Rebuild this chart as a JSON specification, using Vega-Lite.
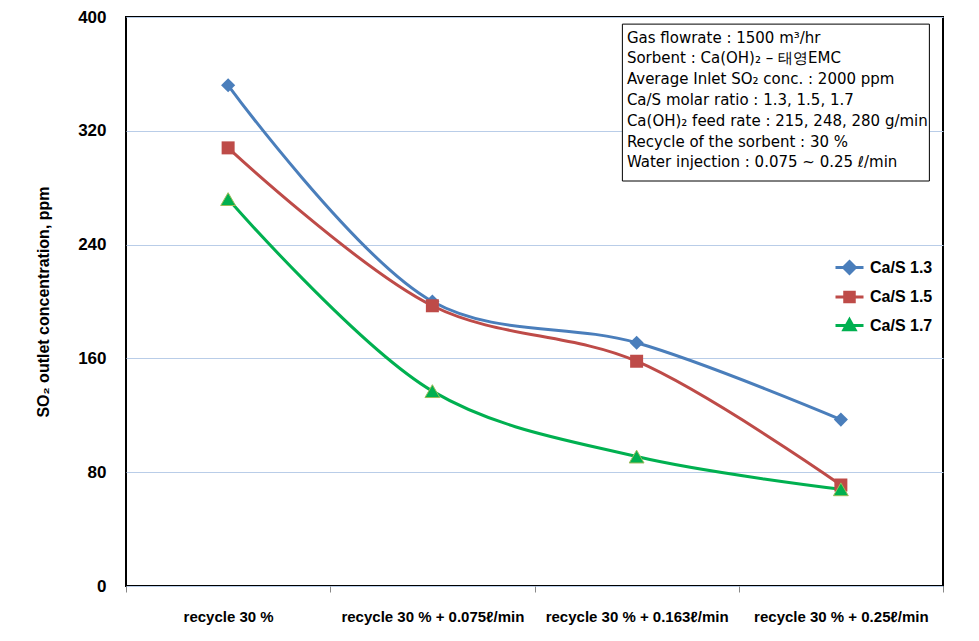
{
  "$schema": "https://vega.github.io/schema/vega-lite/v6.json",
  "autosize": "none",
  "width": 817,
  "height": 569,
  "padding": {"left": 126, "top": 17, "right": 36, "bottom": 55},
  "background": "white",
  "config": {
    "view": {"stroke": "#000000", "strokeWidth": 2},
    "font": "Liberation Sans"
  },
  "datasets": {
    "series": [
      {"condition": "recycle 30 %", "series": "Ca/S 1.3", "ppm": 352},
      {"condition": "recycle 30 % + 0.075ℓ/min", "series": "Ca/S 1.3", "ppm": 200},
      {"condition": "recycle 30 % + 0.163ℓ/min", "series": "Ca/S 1.3", "ppm": 171},
      {"condition": "recycle 30 % + 0.25ℓ/min", "series": "Ca/S 1.3", "ppm": 117},
      {"condition": "recycle 30 %", "series": "Ca/S 1.5", "ppm": 308},
      {"condition": "recycle 30 % + 0.075ℓ/min", "series": "Ca/S 1.5", "ppm": 197},
      {"condition": "recycle 30 % + 0.163ℓ/min", "series": "Ca/S 1.5", "ppm": 158},
      {"condition": "recycle 30 % + 0.25ℓ/min", "series": "Ca/S 1.5", "ppm": 71},
      {"condition": "recycle 30 %", "series": "Ca/S 1.7", "ppm": 272},
      {"condition": "recycle 30 % + 0.075ℓ/min", "series": "Ca/S 1.7", "ppm": 137},
      {"condition": "recycle 30 % + 0.163ℓ/min", "series": "Ca/S 1.7", "ppm": 91},
      {"condition": "recycle 30 % + 0.25ℓ/min", "series": "Ca/S 1.7", "ppm": 68}
    ],
    "notes": [
      {"note": ["Gas flowrate : 1500 m³/hr", "Sorbent : Ca(OH)₂ – 태영EMC", "Average Inlet SO₂ conc. : 2000 ppm", "Ca/S molar ratio : 1.3, 1.5, 1.7", "Ca(OH)₂ feed rate : 215, 248, 280 g/min", "Recycle of the sorbent : 30 %", "Water injection : 0.075 ~ 0.25 ℓ/min"]}
    ]
  },
  "layer": [
    {
      "data": {"name": "series"},
      "mark": {"type": "line", "interpolate": "catmull-rom", "strokeWidth": 3},
      "encoding": {
        "x": {
          "field": "condition",
          "type": "nominal",
          "sort": null,
          "scale": {"paddingInner": 0, "paddingOuter": 0, "domain": ["recycle 30 %", "recycle 30 % + 0.075ℓ/min", "recycle 30 % + 0.163ℓ/min", "recycle 30 % + 0.25ℓ/min"]},
          "axis": {
            "title": null,
            "labelAngle": 0,
            "labelFont": "Liberation Sans",
            "labelFontWeight": "bold",
            "labelFontSize": 15,
            "labelColor": "#000000",
            "labelPadding": 17,
            "labelLimit": 400,
            "tickBand": "extent",
            "tickColor": "#888888",
            "tickSize": 6,
            "tickWidth": 1,
            "domain": false,
            "grid": false
          }
        },
        "y": {
          "field": "ppm",
          "type": "quantitative",
          "scale": {"domain": [0, 400], "nice": false},
          "axis": {
            "title": "SO₂ outlet concentration, ppm",
            "titleFont": "Liberation Sans",
            "titleFontSize": 16,
            "titleFontWeight": "bold",
            "titleColor": "#000000",
            "titlePadding": 26,
            "values": [0, 80, 160, 240, 320, 400],
            "labelFont": "Liberation Sans",
            "labelFontWeight": "bold",
            "labelFontSize": 17,
            "labelColor": "#000000",
            "labelPadding": 20,
            "ticks": false,
            "domain": false,
            "grid": true,
            "gridColor": "#b9cde8",
            "gridWidth": 1
          }
        },
        "color": {
          "field": "series",
          "type": "nominal",
          "scale": {"domain": ["Ca/S 1.3", "Ca/S 1.5", "Ca/S 1.7"], "range": ["#4a7ebb", "#be4b48", "#00b050"]},
          "legend": {
            "title": null,
            "orient": "none",
            "legendX": 708,
            "legendY": 235,
            "labelFont": "Liberation Sans",
            "labelFontWeight": "bold",
            "labelFontSize": 16,
            "labelColor": "#000000",
            "labelOffset": 5,
            "rowPadding": 1.5,
            "symbolSize": 784,
            "symbolStrokeWidth": 3,
            "encode": {
              "symbols": {
                "update": {
                  "fill": {"scale": "color", "field": "value"},
                  "stroke": {"scale": "color", "field": "value"},
                  "strokeWidth": {"value": 3},
                  "shape": {"signal": "datum.value === 'Ca/S 1.3' ? 'M-1,0L1,0M0,-0.42L0.42,0L0,0.42L-0.42,0Z' : datum.value === 'Ca/S 1.5' ? 'M-1,0L1,0M-0.34,-0.34L0.34,-0.34L0.34,0.34L-0.34,0.34Z' : 'M-1,0L1,0M0,-0.42L0.4,0.3L-0.4,0.3Z'"}
                }
              }
            }
          }
        }
      }
    },
    {
      "data": {"name": "series"},
      "transform": [{"filter": "datum.series === 'Ca/S 1.3'"}],
      "mark": {"type": "point", "filled": true, "opacity": 1, "shape": "diamond", "size": 200},
      "encoding": {
        "x": {"field": "condition", "type": "nominal", "sort": null},
        "y": {"field": "ppm", "type": "quantitative"},
        "color": {"field": "series", "type": "nominal"}
      }
    },
    {
      "data": {"name": "series"},
      "transform": [{"filter": "datum.series === 'Ca/S 1.5'"}],
      "mark": {"type": "point", "filled": true, "opacity": 1, "shape": "square", "size": 169},
      "encoding": {
        "x": {"field": "condition", "type": "nominal", "sort": null},
        "y": {"field": "ppm", "type": "quantitative"},
        "color": {"field": "series", "type": "nominal"}
      }
    },
    {
      "data": {"name": "series"},
      "transform": [{"filter": "datum.series === 'Ca/S 1.7'"}],
      "mark": {"type": "point", "filled": true, "opacity": 1, "shape": "triangle-up", "size": 220, "stroke": "#9bbb59", "strokeWidth": 1},
      "encoding": {
        "x": {"field": "condition", "type": "nominal", "sort": null},
        "y": {"field": "ppm", "type": "quantitative"},
        "color": {"field": "series", "type": "nominal"}
      }
    },
    {
      "data": {"name": "notes"},
      "mark": {"type": "rect", "fill": "white", "stroke": "#000000", "strokeWidth": 1, "width": 307, "xOffset": -65},
      "encoding": {
        "x": {"datum": "recycle 30 % + 0.25ℓ/min", "type": "nominal"},
        "y": {"datum": 395, "type": "quantitative"},
        "y2": {"datum": 284.7}
      }
    },
    {
      "data": {"name": "notes"},
      "mark": {"type": "text", "align": "left", "baseline": "top", "font": "DejaVu Sans", "fontSize": 15, "lineHeight": 20.8, "dx": -214, "color": "#000000"},
      "encoding": {
        "x": {"datum": "recycle 30 % + 0.25ℓ/min", "type": "nominal"},
        "y": {"datum": 390.5, "type": "quantitative"},
        "text": {"field": "note"}
      }
    }
  ]
}
